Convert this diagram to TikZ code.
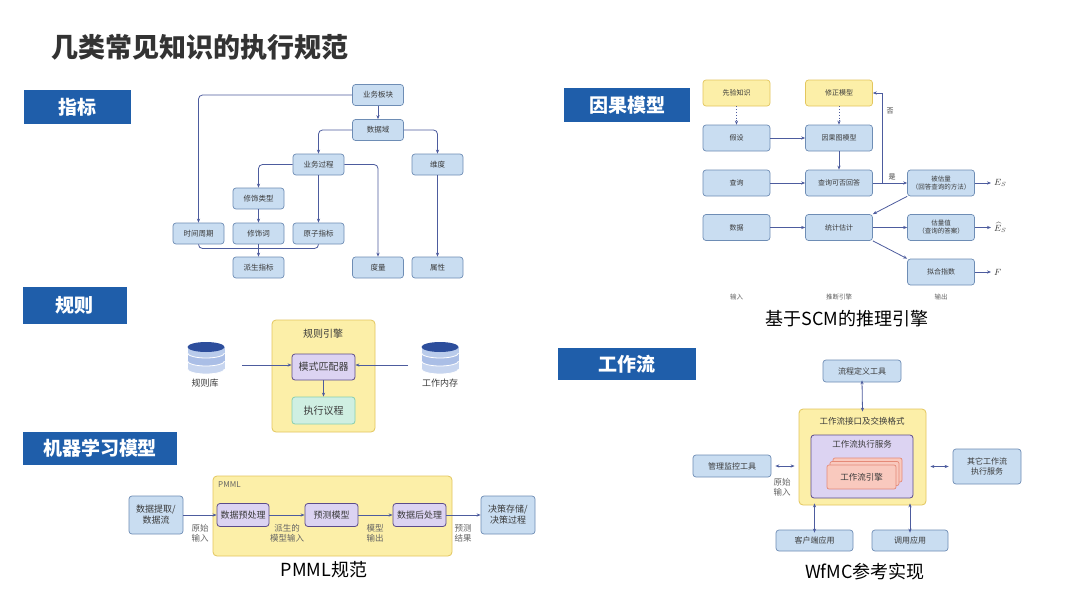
\documentclass[tikz,border=0pt]{standalone}
\usepackage{fontspec}
\setmainfont{Noto Sans CJK SC}
\usetikzlibrary{arrows.meta}
\definecolor{secblue}{RGB}{31,94,170}
\definecolor{titlec}{RGB}{51,51,51}
\definecolor{bfill}{RGB}{201,221,241}
\definecolor{bdraw}{RGB}{110,141,181}
\definecolor{arrc}{RGB}{77,92,158}
\definecolor{yfill}{RGB}{252,239,168}
\definecolor{ydraw}{RGB}{227,198,94}
\definecolor{lfill}{RGB}{220,211,242}
\definecolor{ldraw}{RGB}{91,75,139}
\definecolor{mfill}{RGB}{207,239,226}
\definecolor{mdraw}{RGB}{134,205,175}
\definecolor{sfill}{RGB}{249,201,190}
\definecolor{sdraw}{RGB}{229,138,120}
\definecolor{txt}{RGB}{58,58,58}
\definecolor{gtxt}{RGB}{100,100,100}
\definecolor{dbtop}{RGB}{45,78,156}
\definecolor{dbA}{RGB}{185,203,235}
\definecolor{dbB}{RGB}{170,190,230}
\definecolor{dbC}{RGB}{199,213,239}
\begin{document}
\begin{tikzpicture}[x=1pt,y=-1pt,
  sec/.style={fill=secblue,text=white,font=\bfseries\fontsize{19}{19}\selectfont,inner sep=0pt},
  bbox/.style={draw=bdraw,fill=bfill,rounded corners=3pt,line width=0.7pt,text=txt,
    font=\fontsize{7.5}{9}\selectfont,minimum width=51pt,minimum height=21pt,inner sep=1pt,align=center},
  cbox/.style={bbox,minimum width=67pt,minimum height=26pt,font=\fontsize{7}{8.5}\selectfont},
  cyel/.style={cbox,fill=yfill,draw=ydraw},
  wbox/.style={bbox,minimum width=78pt,minimum height=22pt,font=\fontsize{8}{9.5}\selectfont},
  ybig/.style={draw=ydraw,fill=yfill,rounded corners=4pt,line width=0.8pt,inner sep=0pt},
  pbox/.style={draw=ldraw,fill=lfill,rounded corners=3pt,line width=0.8pt,text=txt,inner sep=1pt,align=center},
  arr/.style={draw=arrc,line width=0.8pt,-{Stealth[length=4pt,width=3.2pt]}},
  darr/.style={draw=arrc,line width=0.8pt,{Stealth[length=4pt,width=3.2pt]}-{Stealth[length=4pt,width=3.2pt]}},
  plain/.style={draw=arrc,line width=0.8pt},
  lab/.style={text=gtxt,font=\fontsize{8.5}{10}\selectfont,align=center,inner sep=0pt},
  captxt/.style={text=black,font=\fontsize{18}{18}\selectfont,inner sep=0pt}]
\useasboundingbox[fill=white] (0,0) rectangle (1080,608);

% title
\node[anchor=west,font=\bfseries\fontsize{27}{27}\selectfont,text=titlec,inner sep=0pt] (title) at (51,47) {几类常见知识的执行规范};

% section labels
\node[sec,minimum width=107pt,minimum height=34pt] (s1) at (77,107) {指标};
\node[sec,minimum width=104pt,minimum height=37pt] (s2) at (75,305) {规则};
\node[sec,minimum width=154pt,minimum height=33pt] (s3) at (100,448.5) {机器学习模型};
\node[sec,minimum width=126pt,minimum height=34pt] (s4) at (627,105) {因果模型};
\node[sec,minimum width=138pt,minimum height=32pt] (s5) at (627,364) {工作流};

% ===== 指标 =====
\node[bbox] (bk) at (378,95) {业务板块};
\node[bbox] (sjy) at (378,130) {数据域};
\node[bbox] (gc) at (318.5,164.5) {业务过程};
\node[bbox] (wd) at (437.5,164.5) {维度};
\node[bbox] (xslx) at (258.5,198.5) {修饰类型};
\node[bbox] (sjzq) at (198.5,233.5) {时间周期};
\node[bbox] (xsc) at (258.5,233.5) {修饰词};
\node[bbox] (yz) at (318.5,233.5) {原子指标};
\node[bbox] (ps) at (258.5,267.5) {派生指标};
\node[bbox] (dl) at (378,267.5) {度量};
\node[bbox] (sx) at (437.5,267.5) {属性};
\coordinate (J) at (258.5,248.5);
\draw[arr,rounded corners=4pt] (bk.west) -| (sjzq.north);
\draw[arr] (bk) -- (sjy);
\draw[arr,rounded corners=4pt] (sjy.west) -| (gc.north);
\draw[arr,rounded corners=4pt] (sjy.east) -| (wd.north);
\draw[arr,rounded corners=4pt] (gc.west) -| (xslx.north);
\draw[arr] (gc) -- (yz);
\draw[arr,rounded corners=4pt] (gc.east) -| (dl.north);
\draw[arr] (xslx) -- (xsc);
\draw[arr] (wd) -- (sx);
\draw[plain,rounded corners=4pt] (sjzq.south) |- (J) -| (yz.south);
\draw[arr] (xsc.south) -- (ps.north);

% ===== 规则 =====
\node[ybig,minimum width=103pt,minimum height=112pt] (engine) at (323.5,376) {};
\node[text=txt,font=\fontsize{10}{10}\selectfont,inner sep=0pt] (englab) at (323,334) {规则引擎};
\node[pbox,minimum width=63pt,minimum height=26pt,font=\fontsize{10}{10}\selectfont] (match) at (323.5,367) {模式匹配器};
\node[pbox,draw=mdraw,fill=mfill,minimum width=63pt,minimum height=27pt,font=\fontsize{10}{10}\selectfont] (agenda) at (323.5,410.5) {执行议程};
\draw[arr] (match) -- (agenda);
% cylinders
\foreach \cx/\nm in {206/dbL,440/dbR}{
  \begin{scope}[shift={(\cx,0)}]
    \filldraw[fill=dbC,draw=white,line width=0.8pt] (0,369) ellipse[x radius=18.5pt,y radius=5pt];
    \fill[dbC] (-18.5,361) rectangle (18.5,369);
    \filldraw[fill=dbB,draw=white,line width=0.8pt] (0,361) ellipse[x radius=18.5pt,y radius=5pt];
    \fill[dbB] (-18.5,353) rectangle (18.5,361);
    \filldraw[fill=dbA,draw=white,line width=0.8pt] (0,353) ellipse[x radius=18.5pt,y radius=5pt];
    \fill[dbA] (-18.5,347) rectangle (18.5,353);
    \fill[dbtop] (0,347) ellipse[x radius=18.5pt,y radius=5pt];
    \coordinate (\nm) at (0,360);
  \end{scope}}
\node[text=txt,font=\fontsize{9}{9}\selectfont,inner sep=0pt] (dbLlab) at (205,383) {规则库};
\node[text=txt,font=\fontsize{9}{9}\selectfont,inner sep=0pt] (dbRlab) at (440,383) {工作内存};
\coordinate (inL) at (242,365);
\coordinate (inR) at (408,365);
\draw[arr] (inL) -- (match.west |- inL);
\draw[arr] (inR) -- (match.east |- inR);

% ===== 机器学习模型 =====
\node[ybig,minimum width=239pt,minimum height=80pt] (pmml) at (332.5,516) {};
\node[anchor=north west,text=gtxt,font=\fontsize{8}{8}\selectfont,inner sep=0pt] (pmmllab) at (218,481) {PMML};
\node[bbox,minimum width=54pt,minimum height=38pt,font=\fontsize{9}{11}\selectfont] (src) at (156,515) {数据提取/\\数据流};
\node[pbox,minimum width=52pt,minimum height=23pt,font=\fontsize{9}{9}\selectfont] (pre) at (243,515) {数据预处理};
\node[pbox,minimum width=53pt,minimum height=23pt,font=\fontsize{9}{9}\selectfont] (pred) at (331.5,515) {预测模型};
\node[pbox,minimum width=53pt,minimum height=23pt,font=\fontsize{9}{9}\selectfont] (post) at (419.5,515) {数据后处理};
\node[bbox,minimum width=54pt,minimum height=38pt,font=\fontsize{9}{11}\selectfont] (dst) at (508,515) {决策存储/\\决策过程};
\draw[arr] (src) -- (pre);
\draw[arr] (pre) -- (pred);
\draw[arr] (pred) -- (post);
\draw[arr] (post) -- (dst);
\node[lab] (l1) at (200,533) {原始\\输入};
\node[lab] (l2) at (287,533) {派生的\\模型输入};
\node[lab] (l3) at (375,533) {模型\\输出};
\node[lab] (l4) at (463,533) {预测\\结果};
\node[captxt] (cap1) at (324,570) {PMML规范};

% ===== 因果模型 =====
\node[cyel] (prior) at (736.5,93) {先验知识};
\node[cyel] (fix) at (839,93) {修正模型};
\node[cbox] (hyp) at (736.5,138) {假设};
\node[cbox] (cg) at (839,138) {因果图模型};
\node[cbox] (qry) at (736.5,183) {查询};
\node[cbox] (can) at (839,183) {查询可否回答};
\node[cbox] (dat) at (736.5,227.5) {数据};
\node[cbox] (est) at (839,227.5) {统计估计};
\node[cbox,font=\fontsize{6.5}{8}\selectfont] (esd) at (941,183) {被估量\\（回答查询的方法）};
\node[cbox,font=\fontsize{6.5}{8}\selectfont] (val) at (941,227.5) {估量值\\（查询的答案）};
\node[cbox] (fit) at (941,272) {拟合指数};
\draw[arr,dotted] (prior) -- (hyp);
\draw[arr,dotted] (fix) -- (cg);
\draw[arr] (hyp) -- (cg);
\draw[arr] (cg) -- (can);
\draw[arr] (qry) -- (can);
\draw[arr] (dat) -- (est);
\coordinate (B) at (882,183);
\draw[arr] (can) -- (esd);
\draw[arr] (B) |- (fix.east);
\node[text=txt,font=\fontsize{7}{7}\selectfont,inner sep=0pt] (no) at (890,111) {否};
\node[text=txt,font=\fontsize{7}{7}\selectfont,inner sep=0pt] (yes) at (892,176.5) {是};
\draw[arr] (esd.south west) -- (est.north east);
\draw[arr] (est) -- (val);
\draw[arr] (est.south east) -- (fit.north west);
\coordinate (o1) at (991,183);
\coordinate (o2) at (991,227.5);
\coordinate (o3) at (991,272);
\draw[arr] (esd.east) -- (o1);
\draw[arr] (val.east) -- (o2);
\draw[arr] (fit.east) -- (o3);
\node[anchor=west,text=txt,font=\fontsize{9}{9}\selectfont,inner sep=0pt] (e1) at ([xshift=3pt]o1) {$E_S$};
\node[anchor=west,text=txt,font=\fontsize{9}{9}\selectfont,inner sep=0pt] (e2) at ([xshift=3pt]o2) {$\widehat{E}_S$};
\node[anchor=west,text=txt,font=\fontsize{9}{9}\selectfont,inner sep=0pt] (e3) at ([xshift=3pt]o3) {$F$};
\node[text=gtxt,font=\fontsize{6.5}{6.5}\selectfont,inner sep=0pt] (c1) at (736.5,297) {输入};
\node[text=gtxt,font=\fontsize{6.5}{6.5}\selectfont,inner sep=0pt] (c2) at (839,297) {推断引擎};
\node[text=gtxt,font=\fontsize{6.5}{6.5}\selectfont,inner sep=0pt] (c3) at (941,297) {输出};
\node[captxt] (cap2) at (847,319) {基于SCM的推理引擎};

% ===== 工作流 =====
\node[wbox] (def) at (862,371) {流程定义工具};
\node[ybig,minimum width=127pt,minimum height=96pt] (iface) at (862.5,457) {};
\node[text=txt,font=\fontsize{8.5}{8.5}\selectfont,inner sep=0pt] (ifacelab) at (862,421) {工作流接口及交换格式};
\node[pbox,minimum width=102pt,minimum height=63pt] (svc) at (862,466.5) {};
\node[text=txt,font=\fontsize{8.5}{8.5}\selectfont,inner sep=0pt] (svclab) at (862,444) {工作流执行服务};
\node[draw=sdraw,fill=sfill,rounded corners=2pt,line width=0.7pt,minimum width=69pt,minimum height=24pt] (eng3) at (867.5,470) {};
\node[draw=sdraw,fill=sfill,rounded corners=2pt,line width=0.7pt,minimum width=69pt,minimum height=24pt] (eng2) at (864.5,473.5) {};
\node[draw=sdraw,fill=sfill,rounded corners=2pt,line width=0.7pt,minimum width=69pt,minimum height=24pt,text=txt,font=\fontsize{8.5}{8.5}\selectfont] (eng) at (861.5,477) {工作流引擎};
\node[wbox] (mon) at (732,466) {管理监控工具};
\node[wbox,minimum width=68pt,minimum height=35pt] (oth) at (987,466.5) {其它工作流\\执行服务};
\node[wbox,minimum width=77pt,minimum height=21pt] (cli) at (814.5,540.5) {客户端应用};
\node[wbox,minimum width=76pt,minimum height=21pt] (call) at (910,540.5) {调用应用};
\draw[darr] ([yshift=2pt]def.south) -- ([yshift=-3pt]iface.north);
\draw[darr] ([xshift=4pt]mon.east) -- ([xshift=-4pt]iface.west |- mon.east);
\draw[darr] ([xshift=4pt]iface.east |- oth.west) -- ([xshift=-4pt]oth.west);
\draw[darr] ([yshift=2pt]iface.south -| cli.north) -- ([yshift=-3pt]cli.north);
\draw[darr] ([yshift=2pt]iface.south -| call.north) -- ([yshift=-3pt]call.north);
\node[lab] (l5) at (782,487) {原始\\输入};
\node[captxt] (cap3) at (865,572) {WfMC参考实现};
\end{tikzpicture}
\end{document}
